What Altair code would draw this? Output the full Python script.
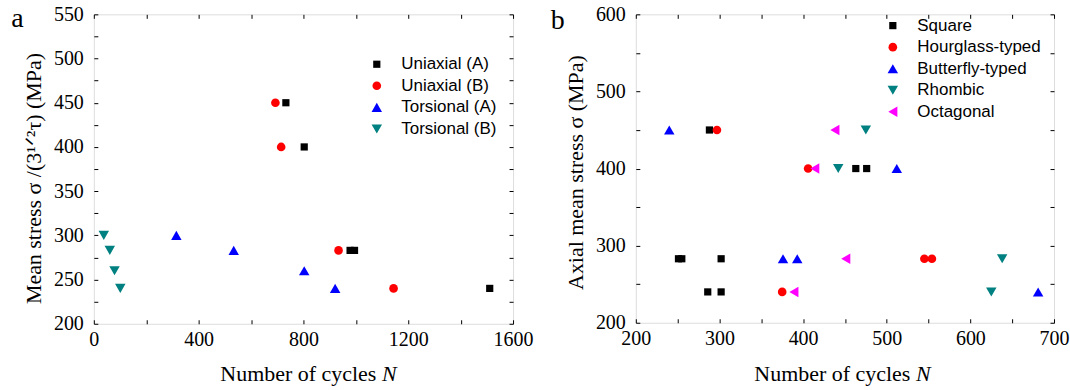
import altair as alt
import pandas as pd

# ---------------- Panel a data ----------------
a_types = ["Uniaxial (A)", "Uniaxial (B)", "Torsional (A)", "Torsional (B)"]
ua_N = [733, 803, 978, 995, 1511]
ua_S = [450, 400, 283, 283, 240]
ub_N = [693, 715, 934, 1144]
ub_S = [450, 400, 283, 240]
ta_N = [315, 534, 803, 921]
ta_S = [300, 283, 260, 240]
tb_N = [38, 61, 79, 101]
tb_S = [300, 283, 260, 240]

# ---------------- Panel b data ----------------
b_types = ["Square", "Hourglass-typed", "Butterfly-typed", "Rhombic", "Octagonal"]
sq_N = [288, 463, 476, 251, 255, 302, 286, 302]
sq_S = [450, 400, 400, 283, 283, 283, 240, 240]
hg_N = [297, 406, 545, 554, 375]
hg_S = [450, 400, 283, 283, 240]
bf_N = [240, 512, 376, 393, 681]
bf_S = [450, 400, 283, 283, 240]
rh_N = [475, 442, 638, 625]
rh_S = [450, 400, 283, 240]
oc_N = [438, 414, 451, 389]
oc_S = [450, 400, 283, 240]


def frame_of(groups):
    rows = []
    for name, ns, ss in groups:
        for n, s in zip(ns, ss):
            rows.append({"N": n, "S": s, "type": name})
    return pd.DataFrame(rows)


df_a = frame_of([(a_types[0], ua_N, ua_S), (a_types[1], ub_N, ub_S),
                 (a_types[2], ta_N, ta_S), (a_types[3], tb_N, tb_S)])
df_b = frame_of([(b_types[0], sq_N, sq_S), (b_types[1], hg_N, hg_S),
                 (b_types[2], bf_N, bf_S), (b_types[3], rh_N, rh_S),
                 (b_types[4], oc_N, oc_S)])

SERIF = "Liberation Serif"
SANS = "Liberation Sans"


def panel(df, types, colors, shapes, sizes, W, H, xdom, xstep, xlab,
          ydom, ystep, ylab, ytitle, ytitle_y, leg_x, leg_y,
          letter, letter_x, letter_y, cx):
    xs = alt.Scale(domain=xdom, nice=False, zero=False)
    ys = alt.Scale(domain=ydom, nice=False, zero=False)
    xvals = list(range(xdom[0], xdom[1] + 1, xstep))
    yvals = list(range(ydom[0], ydom[1] + 1, ystep))
    common = dict(tickSize=4, offset=-4, domain=False, grid=False,
                  tickColor="black", tickWidth=1, labelOverlap=False)
    leg = alt.Legend(title=None, orient="none", legendX=leg_x, legendY=leg_y,
                     labelFont=SANS, labelFontSize=17, labelColor="black",
                     symbolSize=75, symbolStrokeWidth=0, rowPadding=3.6,
                     labelOffset=16, padding=0)
    pts = alt.Chart(df).mark_point(filled=True, opacity=1, strokeWidth=0).encode(
        x=alt.X("N:Q", scale=xs, axis=alt.Axis(
            values=xvals, format="d",
            labelExpr=f"datum.value % {xlab} == 0 ? datum.label : ''",
            labelFont=SERIF, labelFontSize=20, labelColor="black",
            labelPadding=6, labelFlush=False, title=None, **common)),
        y=alt.Y("S:Q", scale=ys, axis=alt.Axis(
            values=yvals, format="d",
            labelExpr=f"datum.value % {ylab} == 0 ? datum.label : ''",
            labelFont=SERIF, labelFontSize=20, labelColor="black",
            labelPadding=10.5, title=ytitle, titleFont=SERIF, titleFontSize=22,
            titleFontWeight="normal", titleColor="black", titlePadding=8,
            titleY=ytitle_y, **common)),
        color=alt.Color("type:N", scale=alt.Scale(domain=types, range=colors), legend=leg),
        shape=alt.Shape("type:N", scale=alt.Scale(domain=types, range=shapes), legend=leg),
        size=alt.Size("type:N", scale=alt.Scale(type="ordinal", domain=types, range=sizes),
                      legend=None),
    )
    frame = alt.Chart(df).mark_point(opacity=0).encode(
        x=alt.X("N:Q", scale=xs, axis=alt.Axis(orient="top", values=xvals, labels=False,
                                                title=None, **common)),
        y=alt.Y("S:Q", scale=ys, axis=alt.Axis(orient="right", values=yvals, labels=False,
                                                title=None, **common)),
    )
    let = alt.Chart(pd.DataFrame({"t": [letter]})).mark_text(
        font=SERIF, fontSize=28, align="left", baseline="alphabetic", color="black"
    ).encode(text="t:N", x=alt.value(letter_x), y=alt.value(letter_y))
    t1 = alt.Chart(pd.DataFrame({"t": ["Number of cycles"]})).mark_text(
        font=SERIF, fontSize=22, align="right", baseline="alphabetic", color="black"
    ).encode(text="t:N", x=alt.value(cx + 68), y=alt.value(367))
    t2 = alt.Chart(pd.DataFrame({"t": ["N"]})).mark_text(
        font=SERIF, fontSize=22, fontStyle="italic", align="left",
        baseline="alphabetic", color="black"
    ).encode(text="t:N", x=alt.value(cx + 73.6), y=alt.value(367))
    return alt.layer(pts, frame, let, t1, t2).resolve_axis(
        x="independent", y="independent").properties(width=W, height=H)


pa = panel(df_a, a_types, ["black", "#FF0000", "#0000FF", "#008080"],
           ["square", "circle", "triangle-up", "triangle-down"], [52, 75, 110, 110],
           420, 310, [0, 1600], 200, 400, [200, 550], 25, 50,
           "Mean stress σ /(3¹ᐟ²τ) (MPa)", 164, 275, 41.5,
           "a", -82.7, 12.3, 215)

pb = panel(df_b, b_types, ["black", "#FF0000", "#0000FF", "#008080", "#FF00FF"],
           ["square", "circle", "triangle-up", "triangle-down", "triangle-left"],
           [52, 75, 110, 110, 110],
           419, 309, [200, 700], 50, 100, [200, 600], 50, 100,
           "Axial mean stress σ (MPa)", 158, 249, 2.8,
           "b", -85.3, 14.3, 207)

chart = alt.hconcat(pa, pb, spacing=16).resolve_scale(
    color="independent", shape="independent", size="independent"
).resolve_legend(color="independent", shape="independent").properties(
    padding={"left": 10, "top": 3, "right": 0, "bottom": 0}
).configure_view(stroke="black", strokeWidth=1).configure(background="white")

chart.save("out.html", embed_options={"renderer": "svg", "actions": False})
